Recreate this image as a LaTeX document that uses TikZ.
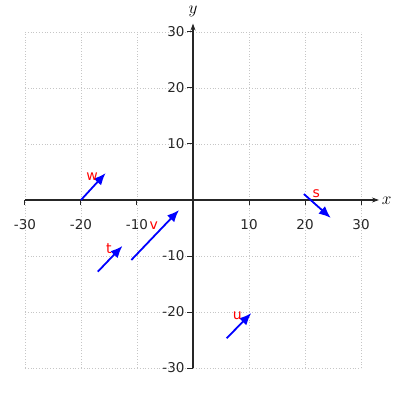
\documentclass[tikz,border=0pt]{standalone}
\usepackage{fontspec}
\setmainfont{DejaVu Sans}
\usetikzlibrary{arrows.meta}
\tikzset{
  gridline/.style={gray!45, line width=0.8pt, dotted},
  axisline/.style={black!85, line width=1.1pt, -{Stealth[length=7pt,width=5pt]}},
  tickline/.style={black!85, line width=1pt},
  ticklabel/.style={font=\fontsize{13.5}{13.5}\selectfont, text=black!85, inner sep=1pt},
  vec/.style={blue, line width=1.8pt, -{Latex[length=12pt,width=10pt]}},
  veclabel/.style={text=red, font=\fontsize{14}{14}\selectfont, inner sep=0pt},
  axislabel/.style={font=\fontsize{16}{16}\selectfont, inner sep=0pt}
}
\begin{document}
\begin{tikzpicture}[x=5.6pt,y=5.6pt]
\useasboundingbox (-34.46,-35.71) rectangle (36.96,35.71);
% grid
\foreach \g in {-30,-20,-10,10,20,30} {
  \draw[gridline] (\g,-30) -- (\g,30);
  \draw[gridline] (-30,\g) -- (30,\g);
}
\draw[gridline] (0,-30) -- (0,30);
\draw[gridline] (-30,0) -- (30,0);
% axes
\coordinate (xs) at (-30,0);
\coordinate (xe) at (33.2,0);
\coordinate (ys) at (0,-30);
\coordinate (ye) at (0,31.5);
\draw[axisline] (xs) -- (xe);
\draw[axisline] (ys) -- (ye);
\node[axislabel] (xl) at (34.6,-0.1) {$x$};
\node[axislabel] (yl) at (0,33.6) {$y$};
% ticks
\foreach \t in {-30,-20,-10,10,20,30} {
  \draw[tickline] (\t,0) -- (\t,-0.95);
  \node[ticklabel, anchor=north] (xt\t) at (\t,-3.2) {\t};
  \draw[tickline] (0,\t) -- (-1.1,\t);
  \node[ticklabel, anchor=east] (yt\t) at (-1.3,\t) {\t};
}
% vectors
\coordinate (w0) at (-20,0);    \coordinate (w1) at (-15.6,4.8);
\coordinate (t0) at (-17,-12.8); \coordinate (t1) at (-12.6,-8.2);
\coordinate (v0) at (-11,-10.7); \coordinate (v1) at (-2.5,-1.8);
\coordinate (s0) at (19.8,1.07); \coordinate (s1) at (24.6,-3.2);
\coordinate (u0) at (6,-24.7);  \coordinate (u1) at (10.4,-20.2);
\draw[vec] (w0) -- (w1);
\draw[vec] (t0) -- (t1);
\draw[vec] (v0) -- (v1);
\draw[vec] (s0) -- (s1);
\draw[vec] (u0) -- (u1);
\node[veclabel] (wl) at (-18,4.1) {w};
\node[veclabel] (tl) at (-15,-8.6) {t};
\node[veclabel] (vl) at (-7,-4.6) {v};
\node[veclabel] (sl) at (22,1.1) {s};
\node[veclabel] (ul) at (7.9,-20.7) {u};
\end{tikzpicture}
\end{document}
